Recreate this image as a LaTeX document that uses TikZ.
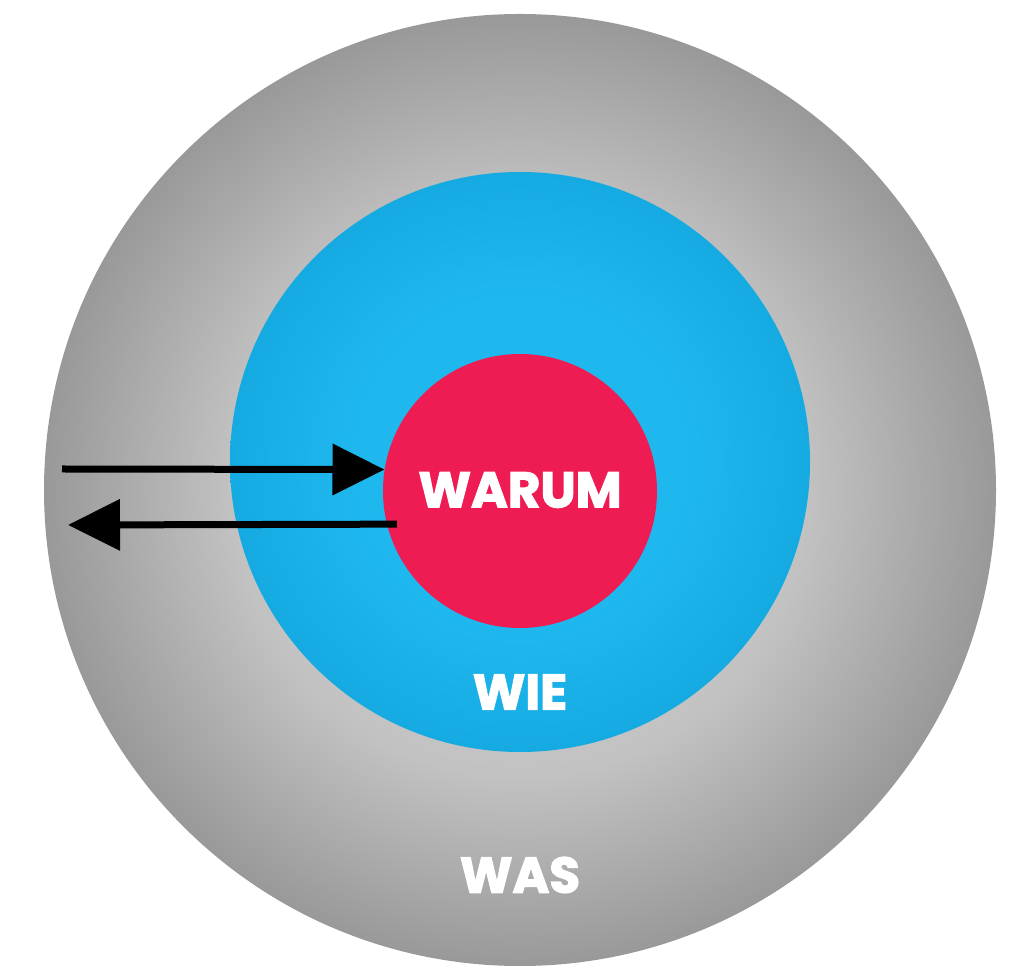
\documentclass[tikz,border=0pt]{standalone}
\usepackage{fontspec}
\setmainfont{Poppins}[BoldFeatures={FakeBold=2.5}]
\usetikzlibrary{arrows.meta}
\definecolor{grayIn}{HTML}{D2D2D2}
\definecolor{grayMid}{HTML}{C2C2C2}
\definecolor{grayOut}{HTML}{999999}
\definecolor{blueIn}{HTML}{1FB8EE}
\definecolor{blueOut}{HTML}{15AAE2}
\definecolor{warumred}{HTML}{EE1C52}
\pgfdeclareradialshading{grayring}{\pgfpoint{0bp}{0bp}}{color(0bp)=(grayIn); color(15bp)=(grayMid); color(25bp)=(grayOut); color(50bp)=(grayOut)}
\pgfdeclareradialshading{bluedisc}{\pgfpoint{0bp}{0bp}}{color(0bp)=(blueIn); color(14bp)=(blueIn); color(25bp)=(blueOut); color(50bp)=(blueOut)}
\tikzset{
  disc/.style={circle, inner sep=0pt, draw=none},
  lbl/.style={text=white, font=\fontsize{50}{50}\selectfont\bfseries, inner sep=0pt},
  flow/.style={line width=7pt, black, -{Triangle[length=52pt,width=50pt]}}
}
\begin{document}
\begin{tikzpicture}[x=1pt,y=1pt]
\fill[white] (0,0) rectangle (1020,972);
\useasboundingbox (0,0) rectangle (1020,972);
\node[disc, minimum size=952pt, shading=grayring] (was) at (520,482) {};
\node[disc, minimum size=580pt, shading=bluedisc] (wie) at (520,510) {};
\node[disc, minimum size=274pt, fill=warumred] (warum) at (520,481) {};
\node[lbl] (twarum) at (520,482) {WARUM};
\node[lbl] (twie) at (520,280) {WIE};
\node[lbl] (twas) at (520,97) {WAS};
\coordinate (src) at (62,503);
\coordinate (dst) at (68,447);
\draw[flow] (src) -- (warum.171);
\draw[flow, shorten <=-10pt] (warum.194) -- (dst);
\end{tikzpicture}
\end{document}
